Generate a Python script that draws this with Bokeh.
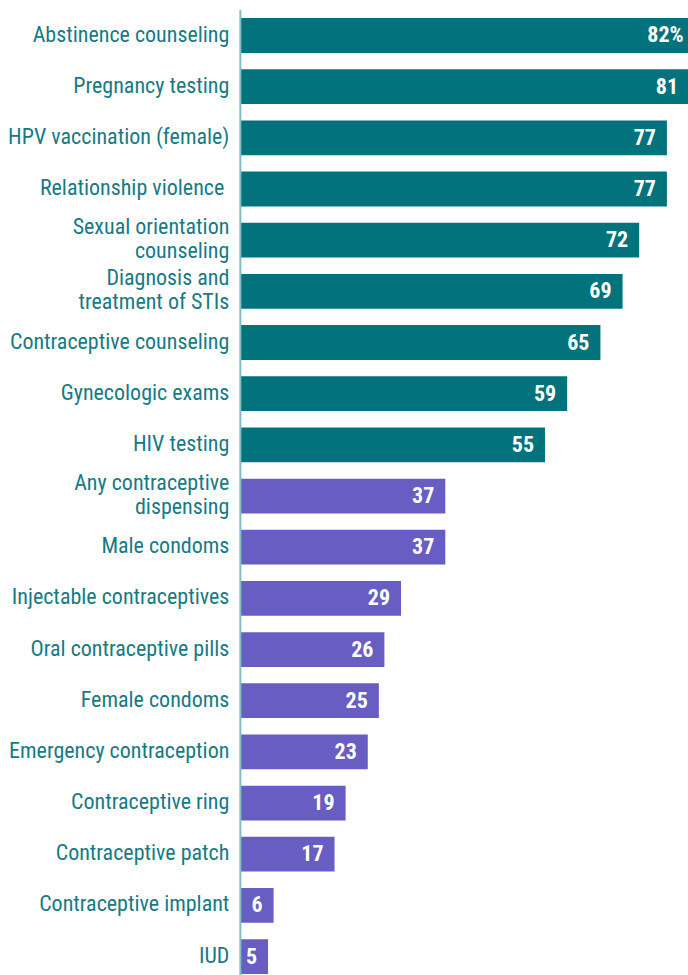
import numpy as np
from bokeh.plotting import figure
from bokeh.models import ColumnDataSource, Range1d
from bokeh.transform import factor_cmap
from bokeh.core.properties import value
from bokeh.embed import file_html
from bokeh.resources import INLINE

categories = [
    "Abstinence counseling",
    "Pregnancy testing",
    "HPV vaccination (female)",
    "Relationship violence ",
    "Sexual orientation\ncounseling",
    "Diagnosis and\ntreatment of STIs",
    "Contraceptive counseling",
    "Gynecologic exams",
    "HIV testing",
    "Any contraceptive\ndispensing",
    "Male condoms",
    "Injectable contraceptives",
    "Oral contraceptive pills",
    "Female condoms",
    "Emergency contraception",
    "Contraceptive ring",
    "Contraceptive patch",
    "Contraceptive implant",
    "IUD",
]
values = [82, 81, 77, 77, 72, 69, 65, 59, 55, 37, 37, 29, 26, 25, 23, 19, 17, 6, 5]
value_labels = ["82%", "81", "77", "77", "72", "69", "65", "59", "55", "37", "37",
                "29", "26", "25", "23", "19", "17", "6", "5"]
groups = ["counseling"] * 9 + ["dispensing"] * 10

TEAL = "#02737c"
PURPLE = "#675dc3"
LABEL = "#177a84"
FONT = "'Roboto Condensed', 'DejaVu Sans Condensed', Roboto"

n = len(categories)
pos = np.arange(n)

src = ColumnDataSource(dict(cat=categories, val=values, lab=value_labels,
                            grp=groups, y=pos, zero=[0] * n))

p = figure(width=688, height=975, output_backend="svg", toolbar_location=None,
           x_range=Range1d(-43.3, 80.9), y_range=Range1d(18.37, -0.684),
           min_border=0, outline_line_color=None)
p.xaxis.visible = False
p.yaxis.visible = False
p.grid.visible = False

p.hbar(y="y", left=0, right="val", height=0.68, source=src, line_color=None,
       fill_color=factor_cmap("grp", [TEAL, PURPLE], ["counseling", "dispensing"]))

p.segment(x0=0, x1=0, y0=-0.5, y1=n - 0.5, line_color="#7fbfc4", line_width=2)

p.text(x="zero", y="y", text="cat", source=src, x_offset=-11, y_offset=-1.5,
       text_align="right", text_baseline="middle", text_color=LABEL,
       text_font=value(FONT), text_font_size="22px", text_line_height=0.95)

p.text(x="val", y="y", text="lab", source=src, x_offset=-11, y_offset=-1,
       text_align="right", text_baseline="middle", text_color="white",
       text_font=value(FONT), text_font_style="bold", text_font_size="22px")

open("out.html", "w").write(file_html(p, INLINE))
